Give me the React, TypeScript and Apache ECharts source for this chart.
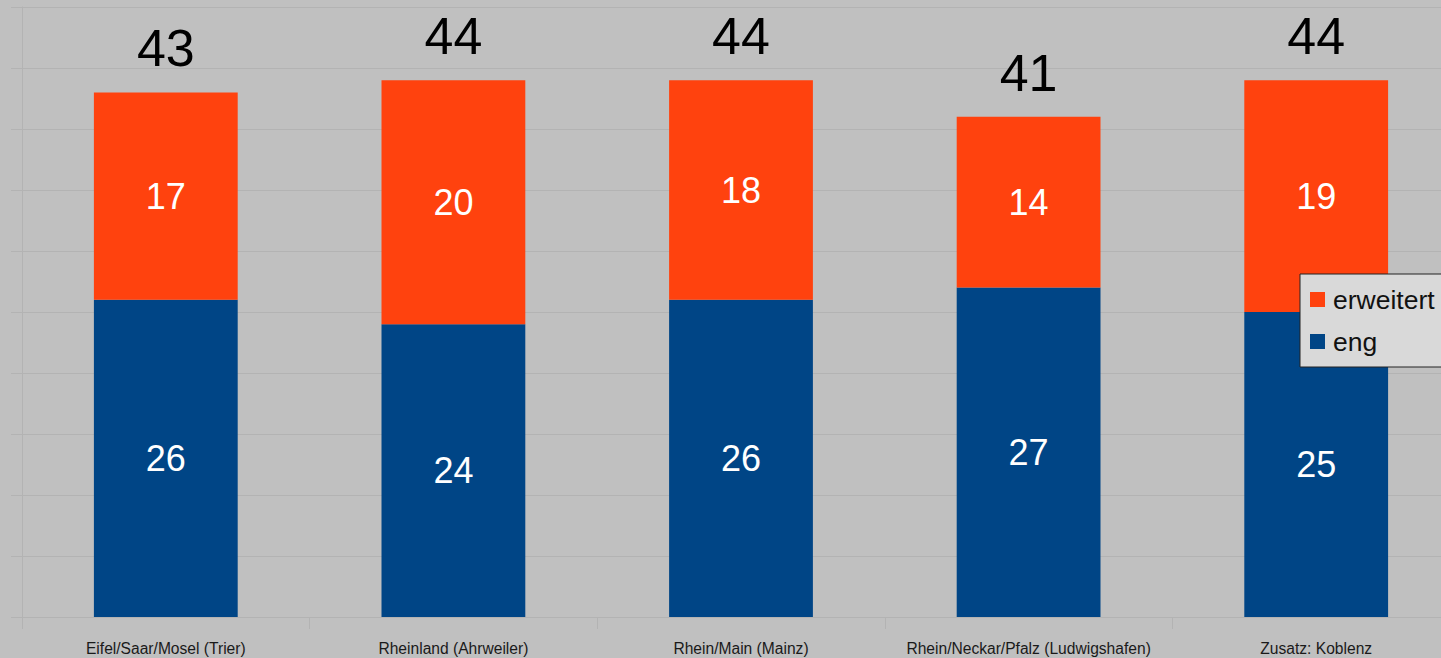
import React, { useEffect, useRef } from "react";
import * as echarts from "echarts";

const categories = [
  "Eifel/Saar/Mosel (Trier)",
  "Rheinland (Ahrweiler)",
  "Rhein/Main (Mainz)",
  "Rhein/Neckar/Pfalz (Ludwigshafen)",
  "Zusatz: Koblenz",
];
const engValues = [26, 24, 26, 27, 25];
const erweitertValues = [17, 20, 18, 14, 19];
const totalValues = [43, 44, 44, 41, 44];

const FONT = "Liberation Sans, Arial, sans-serif";
const GRID_COLOR = "#b3b3b3";

export default function App() {
  const ref = useRef<HTMLDivElement>(null);
  useEffect(() => {
    if (!ref.current) return;
    const chart = echarts.init(ref.current, null, { renderer: "svg" });
    chart.setOption({
      animation: false,
      backgroundColor: "#c0c0c0",
      textStyle: { fontFamily: FONT },
      grid: {
        left: 22,
        top: 7,
        right: -19,
        bottom: 41,
        containLabel: false,
        outerBoundsMode: "none",
      },
      legend: {
        data: ["erweitert", "eng"],
        orient: "vertical",
        left: 1300,
        top: 274,
        padding: [12, 20, 12, 10],
        itemGap: 15,
        itemWidth: 15,
        itemHeight: 15,
        icon: "rect",
        backgroundColor: "#d9d9d9",
        borderColor: "#222222",
        borderWidth: 1,
        selectedMode: false,
        textStyle: { fontSize: 26.5, color: "#111111", fontFamily: FONT, padding: [0, 0, 0, 3] },
      },
      xAxis: {
        type: "category",
        data: categories,
        axisLine: { show: true, lineStyle: { color: GRID_COLOR, width: 1 } },
        axisTick: { show: true, length: 12, lineStyle: { color: GRID_COLOR } },
        axisLabel: { fontSize: 15.6, color: "#1a1a1a", margin: 23, fontFamily: FONT, interval: 0 },
        splitLine: { show: false },
      },
      yAxis: {
        type: "value",
        min: 0,
        max: 50,
        interval: 5,
        axisLine: { show: true, lineStyle: { color: GRID_COLOR, width: 1 } },
        axisTick: { show: true, length: 11, lineStyle: { color: GRID_COLOR } },
        axisLabel: { show: false },
        splitLine: { show: true, lineStyle: { color: GRID_COLOR, width: 1 } },
      },
      series: [
        {
          name: "eng",
          type: "bar",
          stack: "s",
          data: engValues,
          barWidth: "50%",
          barGap: "-100%",
          itemStyle: { color: "#004586" },
          label: { show: true, position: "inside", color: "#ffffff", fontSize: 36, fontFamily: FONT },
          emphasis: { disabled: true },
        },
        {
          name: "erweitert",
          type: "bar",
          stack: "s",
          data: erweitertValues,
          barWidth: "50%",
          barGap: "-100%",
          itemStyle: { color: "#ff420e" },
          label: { show: true, position: "inside", color: "#ffffff", fontSize: 36, fontFamily: FONT },
          emphasis: { disabled: true },
        },
        {
          name: "Summe",
          type: "bar",
          data: totalValues,
          barWidth: "50%",
          barGap: "-100%",
          z: 1,
          itemStyle: { color: "rgba(0,0,0,0)" },
          label: { show: true, position: "top", distance: 18, color: "#000000", fontSize: 52, fontFamily: FONT },
          emphasis: { disabled: true },
          silent: true,
        },
      ],
    });
    return () => chart.dispose();
  }, []);
  return (
    <div
      ref={ref}
      style={{ position: "absolute", left: 0, top: 0, width: 1441, height: 658 }}
    />
  );
}
